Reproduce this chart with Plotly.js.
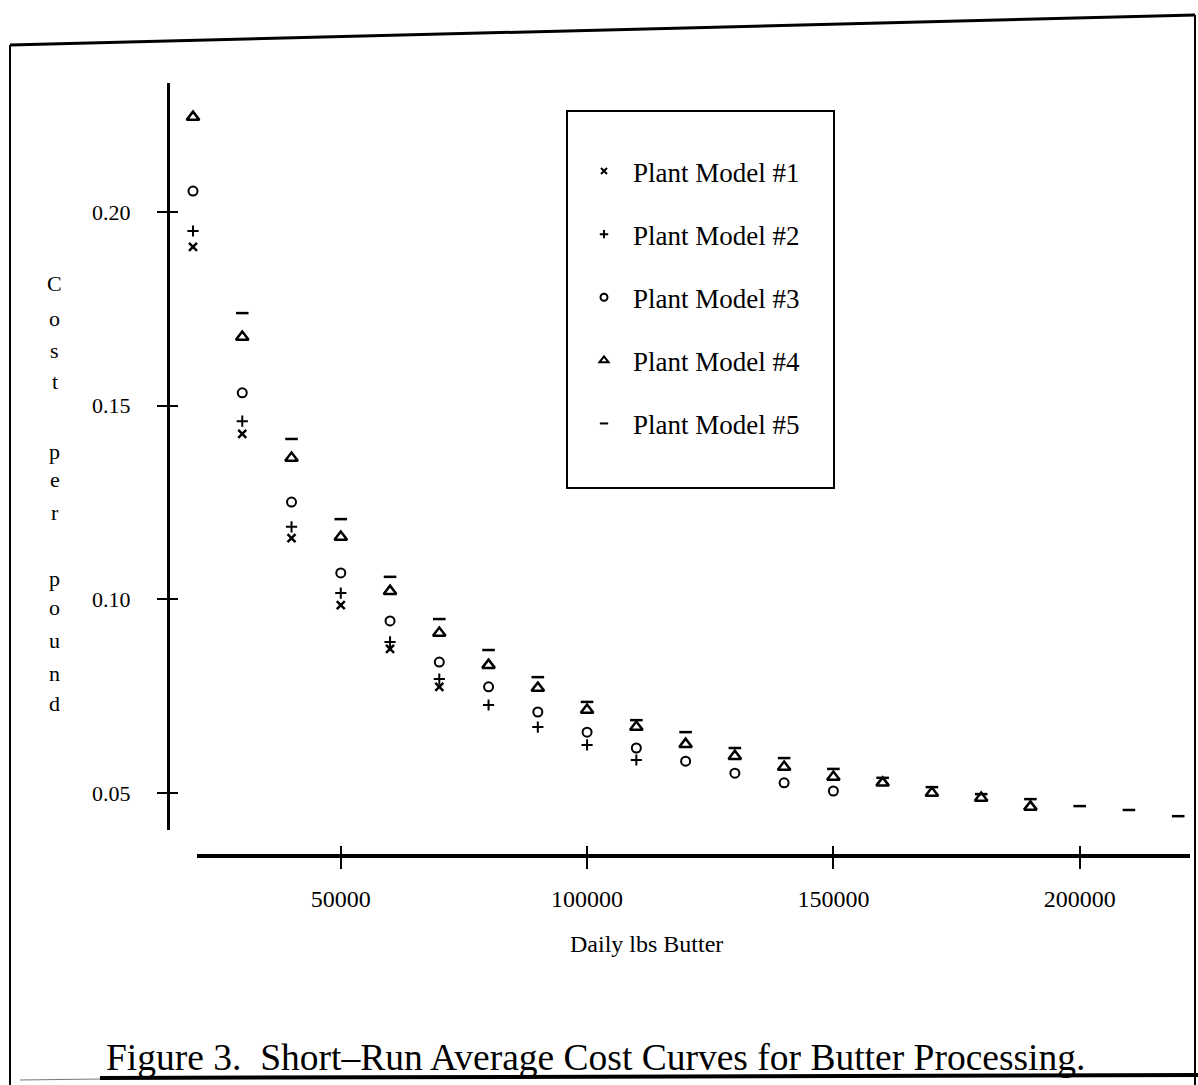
<!DOCTYPE html>
<html>
<head>
<meta charset="utf-8">
<script src="https://cdn.plot.ly/plotly-3.0.1.min.js"></script>
<style>html,body{margin:0;padding:0;background:#fff;}#chart{width:1198px;height:1085px;}</style>
</head>
<body>
<div id="chart"></div>
<script>
// ---- data ----
const seriesNames = ["Plant Model #1", "Plant Model #2", "Plant Model #3", "Plant Model #4", "Plant Model #5"];

const xModel1 = [20000, 30000, 40000, 50000, 60000, 70000];
const yModel1 = [0.1910, 0.1427, 0.1158, 0.0985, 0.0872, 0.0774];

const xModel2 = [20000, 30000, 40000, 50000, 60000, 70000, 80000, 90000, 100000, 110000];
const yModel2 = [0.1951, 0.1460, 0.1187, 0.1016, 0.0890, 0.0794, 0.0727, 0.0670, 0.0624, 0.0585];

const xModel3 = [20000, 30000, 40000, 50000, 60000, 70000, 80000, 90000, 100000, 110000, 120000, 130000, 140000, 150000];
const yModel3 = [0.2054, 0.1533, 0.1251, 0.1068, 0.0944, 0.0838, 0.0774, 0.0709, 0.0657, 0.0616, 0.0582, 0.0551, 0.0526, 0.0505];

const xModel4 = [20000, 30000, 40000, 50000, 60000, 70000, 80000, 90000, 100000, 110000, 120000, 130000, 140000, 150000, 160000, 170000, 180000, 190000];
const yModel4 = [0.2245, 0.1677, 0.1365, 0.1161, 0.1021, 0.0913, 0.0830, 0.0771, 0.0714, 0.0670, 0.0626, 0.0595, 0.0567, 0.0541, 0.0526, 0.0500, 0.0487, 0.0464];

const xModel5 = [30000, 40000, 50000, 60000, 70000, 80000, 90000, 100000, 110000, 120000, 130000, 140000, 150000, 160000, 170000, 180000, 190000, 200000, 210000, 220000];
const yModel5 = [0.1739, 0.1414, 0.1207, 0.1058, 0.0949, 0.0869, 0.0799, 0.0735, 0.0688, 0.0657, 0.0616, 0.0590, 0.0562, 0.0539, 0.0515, 0.0497, 0.0484, 0.0466, 0.0456, 0.0440];

const xTickVals = [50000, 100000, 150000, 200000];
const xTickText = ["50000", "100000", "150000", "200000"];
const yTickVals = [0.05, 0.10, 0.15, 0.20];
const yTickText = ["0.05", "0.10", "0.15", "0.20"];

const titleText = "Figure 3.  Short\u2013Run Average Cost Curves for Butter Processing.";
const xTitleText = "Daily lbs Butter";
const yTitleText = "Cost per pound";

// ---- layout helpers ----
const W = 1198, H = 1085;
const px = v => v / W;
const py = v => (H - v) / H;
const FONT = "Liberation Serif, Times New Roman, serif";

const xs = [xModel1, xModel2, xModel3, xModel4, xModel5];
const ys = [yModel1, yModel2, yModel3, yModel4, yModel5];
const symbols = ["x-thin-open", "cross-thin-open", "circle-open", "triangle-up-open", "line-ew-open"];
const sizes = [8, 8, 9, 11, 9];
const widths = [2.5, 2, 2, 2.5, 2.5];
const legendSizes = [6, 6, 7, 8, 6];

const traces = xs.map((x, i) => ({
  type: "scatter", mode: "markers", x: x, y: ys[i], name: seriesNames[i],
  legendgroup: "g" + i, showlegend: false, cliponaxis: false,
  marker: {symbol: symbols[i], size: sizes[i], color: "#000", line: {color: "#000", width: widths[i]}}
}));
// legend keys: the printed legend uses smaller symbols than the plotted points
seriesNames.forEach((name, i) => traces.push({
  type: "scatter", mode: "markers", x: [null], y: [null], name: name, legendgroup: "g" + i, showlegend: true,
  hoverinfo: "skip",
  marker: {symbol: symbols[i], size: legendSizes[i], color: "#000", line: {color: "#000", width: 2}}
}));
// empty traces that carry the drawn axis line and the crossing tick marks
traces.push({type: "scatter", mode: "markers", x: [], y: [], xaxis: "x2", yaxis: "y2", showlegend: false, hoverinfo: "skip"});
traces.push({type: "scatter", mode: "markers", x: [], y: [], xaxis: "x3", yaxis: "y2", showlegend: false, hoverinfo: "skip"});

// x scale: 20000 at px 193, 4.926 px per 1000
const xPix0 = 193, xVal0 = 20000, xScale = 0.004926;
const xAt = p => xVal0 + (p - xPix0) / xScale;
const yRange = [0.04043, 0.23331];
const yDom = [py(830), py(83)];

const axisPos = py(856);
const xLineDom = [px(197), px(1190)];
const xLineRange = [xAt(197), xAt(1190)];

const baseX = {range: xLineRange, domain: xLineDom, anchor: "free", position: axisPos, showgrid: false, zeroline: false,
  tickvals: xTickVals, ticktext: xTickText, tickwidth: 2, tickcolor: "#000"};
const baseY = {range: yRange, domain: yDom, anchor: "free", position: px(168), showgrid: false, zeroline: false,
  tickvals: yTickVals, ticktext: yTickText, tickwidth: 2, tickcolor: "#000"};

// stacked vertical y-axis title letters
const letterY = [283, 318, 350, 382, 451, 480, 512, 578, 607, 640, 673, 704];
const letters = yTitleText.replace(/ /g, "").split("");
const annotations = letters.map((ch, i) => ({
  text: ch, xref: "paper", yref: "paper", x: px(55), y: py(letterY[i]), xanchor: "center", yanchor: "middle",
  showarrow: false, font: {family: FONT, size: 22, color: "#000"}
}));
annotations.push({text: xTitleText, xref: "paper", yref: "paper", x: px(646), y: py(944), xanchor: "center", yanchor: "middle",
  showarrow: false, font: {family: FONT, size: 24, color: "#000"}});
annotations.push({text: titleText, xref: "paper", yref: "paper", x: px(595), y: py(1057), xanchor: "center", yanchor: "middle",
  showarrow: false, font: {family: FONT, size: 37.5, color: "#000"}});

const line = (x0, y0, x1, y1, w, c) => ({type: "line", xref: "paper", yref: "paper",
  x0: px(x0), y0: py(y0), x1: px(x1), y1: py(y1), line: {color: c || "#000", width: w}});

const shapes = [
  line(10, 45, 10, 1085, 2),
  line(10, 45, 1195, 15, 3),
  line(1195, 15, 1195, 1085, 2),
  line(20, 1080, 100, 1079, 1, "#777"),
  line(100, 1078, 1198, 1075, 4),
  {type: "rect", xref: "paper", yref: "paper", x0: px(567), x1: px(834), y0: py(488), y1: py(111), line: {color: "#000", width: 2}}
];

const layout = {
  width: W, height: H, margin: {l: 0, r: 0, t: 0, b: 0},
  paper_bgcolor: "#fff", plot_bgcolor: "rgba(0,0,0,0)",
  font: {family: FONT, color: "#000"},
  showlegend: true,
  legend: {x: px(575), y: py(147), xanchor: "left", yanchor: "top", bgcolor: "rgba(0,0,0,0)", borderwidth: 0,
    font: {family: FONT, size: 27, color: "#000"}, itemwidth: 48, traceorder: "grouped", tracegroupgap: 25},
  // data axis (wider, so the first column at 20000 is inside its range); not drawn
  xaxis: {range: [xAt(180), xAt(1190)], domain: [px(180), px(1190)], anchor: "y", showgrid: false, zeroline: false,
    showline: false, ticks: "", showticklabels: false},
  // drawn axis line with the same scale, independent domain
  xaxis2: Object.assign({}, baseX, {showline: true, linewidth: 4, linecolor: "#000", ticks: "outside", ticklen: 11,
    ticklabelstandoff: 9, tickfont: {family: FONT, size: 24, color: "#000"}}),
  xaxis3: Object.assign({}, baseX, {overlaying: "x2", showline: false, ticks: "inside", ticklen: 10, showticklabels: false}),
  yaxis: Object.assign({}, baseY, {showline: true, linewidth: 3, linecolor: "#000", ticks: "outside", ticklen: 10,
    ticklabelstandoff: 22, tickfont: {family: FONT, size: 22, color: "#000"}}),
  yaxis2: Object.assign({}, baseY, {overlaying: "y", showline: false, ticks: "inside", ticklen: 9, showticklabels: false}),
  annotations: annotations,
  shapes: shapes
};

Plotly.newPlot("chart", traces, layout, {displayModeBar: false, staticPlot: true});
</script>
</body>
</html>
